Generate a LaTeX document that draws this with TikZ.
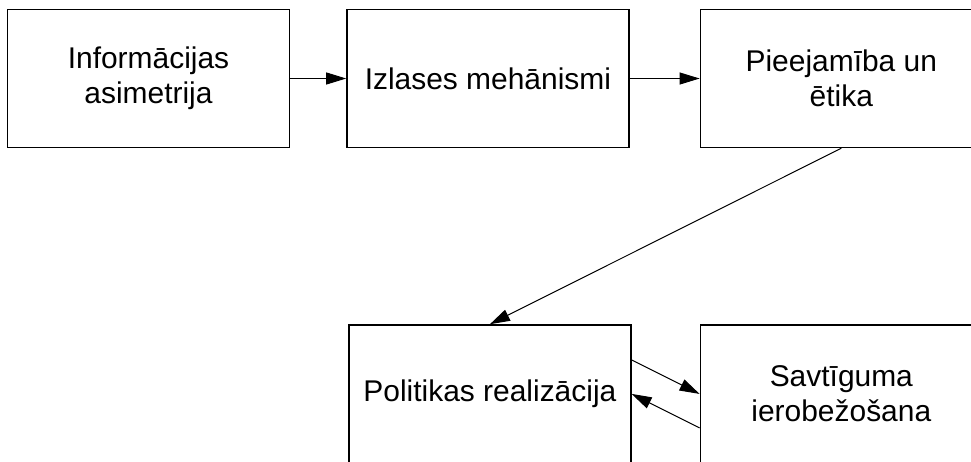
\documentclass[tikz,border=0pt]{standalone}
\usepackage{fontspec}
\setmainfont{Liberation Sans}
\usetikzlibrary{arrows.meta,positioning}

\begin{document}
\begin{tikzpicture}[x=0.25mm, y=-0.25mm,
  blk/.style={draw, line width=1pt, minimum width=70.5mm, minimum height=34.5mm,
    align=center, font=\fontsize{21.3}{25}\selectfont, inner sep=2pt},
  arr/.style={-{Triangle[length=5mm, width=3mm]}, line width=0.7pt}]
\useasboundingbox (0,0) rectangle (971,461);
\node[blk] (info) at (148.5,78.5) {Informācijas\\asimetrija};
\node[blk, right=14mm of info] (izlase) {Izlases mehānismi};
\node[blk, right=17.5mm of izlase] (etika) {Pieejamība un\\ētika};
\node[blk, below=44mm of izlase, xshift=0.5mm] (polit) {Politikas realizācija};
\node[blk, right=17mm of polit] (savt) {Savtīguma\\ierobežošana};
\draw[arr] (info) -- (izlase);
\draw[arr] (izlase) -- (etika);
\draw[arr] (etika.south) -- (polit.north);
\draw[arr] ([yshift=8.5mm]polit.east) -- (savt.west);
\draw[arr] ([yshift=-8.5mm]savt.west) -- (polit.east);
\end{tikzpicture}
\end{document}
